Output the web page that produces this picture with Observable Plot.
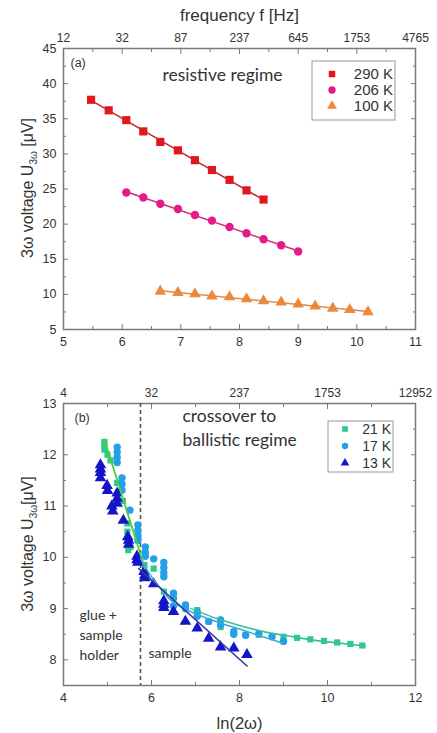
<!DOCTYPE html>
<html><head><meta charset="utf-8">
<script src="https://cdn.jsdelivr.net/npm/d3@7"></script>
<script src="https://cdn.jsdelivr.net/npm/@observablehq/plot@0.6"></script>
<style>
body{margin:0;background:#fff;}
#wrap{width:437px;}
#wrap svg{display:block;}
</style></head><body><div id="wrap"></div>
<script>
// ---------- Panel (a) data ----------
const x290 = [5.47,5.77,6.07,6.36,6.65,6.95,7.24,7.53,7.83,8.12,8.41];
const y290 = [37.7,36.2,34.8,33.2,31.7,30.5,29.1,27.7,26.3,24.8,23.5];
const x206 = [6.07,6.36,6.65,6.95,7.24,7.53,7.83,8.12,8.41,8.71,9.00];
const y206 = [24.5,23.8,22.9,22.15,21.3,20.5,19.6,18.7,17.85,17.0,16.1];
const x100 = [6.65,6.95,7.24,7.53,7.83,8.12,8.41,8.71,9.0,9.29,9.59,9.88,10.19];
const y100 = [10.44,10.25,10.06,9.73,9.63,9.35,9.06,8.88,8.59,8.31,8.02,7.82,7.5];
const seriesA = ["290 K","206 K","100 K"];
const xTicksA = [5,6,7,8,9,10,11];
const xMinorA = [5.5,6.5,7.5,8.5,9.5,10.5];
const yTicksA = [5,10,15,20,25,30,35,40,45];
const yMinorA = [7.5,12.5,17.5,22.5,27.5,32.5,37.5,42.5];
const freqA = ["12","32","87","237","645","1753","4765"];

// ---------- Panel (b) data ----------
const x21 = [4.93,4.93,4.93,5.0,5.07,5.22,5.35,5.45,5.45,5.47,5.52,5.67,5.84,6.05,6.28,6.5,6.77,7.04,7.3,7.57,7.87,8.14,8.44,8.74,9.0,9.31,9.61,9.92,10.22,10.52,10.79];
const y21 = [12.25,12.17,12.1,12.0,11.89,11.45,11.1,10.66,10.5,10.14,10.2,10.0,9.85,9.78,9.33,9.28,9.05,8.97,8.75,8.64,8.54,8.49,8.49,8.46,8.45,8.43,8.4,8.37,8.34,8.31,8.28];
const x17 = [5.22,5.22,5.22,5.22,5.33,5.33,5.33,5.51,5.69,5.69,5.69,5.69,5.86,5.86,5.86,6.05,6.28,6.28,6.28,6.28,6.5,6.5,6.5,6.77,6.77,7.04,7.04,7.3,7.57,7.57,7.87,7.87,8.14,8.44,8.74,9.0];
const y17 = [12.15,12.05,11.95,11.85,11.55,11.43,11.31,10.92,10.63,10.53,10.43,10.33,10.2,10.1,10.02,9.97,9.9,9.8,9.7,9.62,9.3,9.2,9.05,9.07,9.0,8.93,8.85,8.75,8.78,8.68,8.55,8.5,8.48,8.51,8.45,8.36];
const x13 = [4.84,4.84,4.84,4.84,4.99,5.0,5.1,5.12,5.22,5.22,5.22,5.36,5.46,5.48,5.48,5.67,5.67,5.69,5.83,5.85,5.85,6.05,6.28,6.28,6.28,6.5,6.77,7.04,7.3,7.57,7.87,8.17];
const y13 = [11.8,11.72,11.65,11.55,11.4,11.3,11.0,10.9,11.25,11.15,11.05,10.72,10.4,10.33,10.25,10.02,9.95,9.9,9.72,9.65,9.6,9.48,9.15,9.08,9.02,8.94,8.75,8.62,8.42,8.25,8.23,8.1];
// fitted curves
const fit21aX = [4.93,5.85], fit21aY = [12.3,9.78];
const fit21bX = [6.9,7.5,8.0,8.5,9.0,9.5,10.0,10.86], fit21bY = [9.0,8.8,8.67,8.56,8.48,8.41,8.35,8.27];
const fit17X = [5.75,6.0,6.25,6.5,7.0,7.5,8.0,8.5,9.0], fit17Y = [9.98,9.62,9.35,9.12,8.9,8.74,8.6,8.46,8.32];
const fit13X = [5.71,8.17], fit13Y = [9.78,7.88];
const boundary = [5.75];
const seriesB = ["21 K","17 K","13 K"];
const xTicksB = [4,6,8,10,12];
const xMinorB = [5,7,9,11];
const yTicksB = [8,9,10,11,12,13];
const yMinorB = [7.5,8.5,9.5,10.5,11.5,12.5];
const freqB = ["4","32","237","1753","12952"];

const zip = (xs, ys) => xs.map((x, i) => ({x, y: ys[i]}));
const FONT = "'Liberation Sans', Arial, sans-serif";
const ANN = "Lato, 'Open Sans', sans-serif";
const TXT = "#333";
const FRAME = "#7a7a7a";

function axes(xt, xm, yt, ym, topFmt) {
  const blank = () => "";
  const num = (d) => String(d);
  return [
    Plot.axisX({anchor:"bottom", ticks:xt, tickSize:0, tickPadding:8, tickFormat:num, label:null, fontSize:12.5, fill:TXT}),
    Plot.axisX({anchor:"bottom", ticks:xt, tickSize:-5, tickFormat:blank, label:null, stroke:FRAME}),
    Plot.axisX({anchor:"bottom", ticks:xm, tickSize:-3, tickFormat:blank, label:null, stroke:FRAME}),
    Plot.axisX({anchor:"top", ticks:xt, tickSize:0, tickPadding:7, tickFormat:topFmt, label:null, fontSize:12, fill:TXT}),
    Plot.axisX({anchor:"top", ticks:xt, tickSize:-5, tickFormat:blank, label:null, stroke:FRAME}),
    Plot.axisX({anchor:"top", ticks:xm, tickSize:-3, tickFormat:blank, label:null, stroke:FRAME}),
    Plot.axisY({anchor:"left", ticks:yt, tickSize:0, tickPadding:7, tickFormat:num, label:null, fontSize:12.5, fill:TXT}),
    Plot.axisY({anchor:"left", ticks:yt, tickSize:-5, tickFormat:blank, label:null, stroke:FRAME}),
    Plot.axisY({anchor:"left", ticks:ym, tickSize:-3, tickFormat:blank, label:null, stroke:FRAME}),
    Plot.axisY({anchor:"right", ticks:yt, tickSize:-5, tickFormat:blank, label:null, stroke:FRAME}),
    Plot.axisY({anchor:"right", ticks:ym, tickSize:-3, tickFormat:blank, label:null, stroke:FRAME}),
    Plot.frame({stroke:FRAME, strokeWidth:1.5})
  ];
}

// ---------- Panel (a) ----------
const cA = {"290 K":"#e8141c","206 K":"#e8178a","100 K":"#f0883a"};
const lA = {"290 K":"#c4262b","206 K":"#d42a82","100 K":"#e08a45"};
const d290 = zip(x290, y290), d206 = zip(x206, y206), d100 = zip(x100, y100);

const plotA = Plot.plot({
  width:437, height:360, marginTop:48, marginBottom:31, marginLeft:63, marginRight:22,
  style:{fontFamily:FONT, color:TXT, background:"#fff"},
  x:{domain:[5,11]}, y:{domain:[5,45]},
  marks:[
    ...axes(xTicksA, xMinorA, yTicksA, yMinorA, (d) => freqA[xTicksA.indexOf(d)]),
    Plot.dot(d290, {x:"x", y:"y", symbol:"square", fill:cA["290 K"], r:4.6}),
    Plot.dot(d206, {x:"x", y:"y", symbol:"circle", fill:cA["206 K"], r:4.2}),
    Plot.dot(d100, {x:"x", y:"y", symbol:"triangle", fill:cA["100 K"], r:4.3}),
    Plot.linearRegressionY(d290, {x:"x", y:"y", stroke:lA["290 K"], strokeWidth:1.5, ci:0}),
    Plot.linearRegressionY(d206, {x:"x", y:"y", stroke:lA["206 K"], strokeWidth:1.5, ci:0}),
    Plot.linearRegressionY(d100, {x:"x", y:"y", stroke:lA["100 K"], strokeWidth:1.5, ci:0}),
    Plot.text(["frequency f [Hz]"], {frameAnchor:"top", dy:-33, lineAnchor:"middle", fontSize:17, fill:TXT}),
    Plot.text(["(a)"], {frameAnchor:"top-left", dx:7, dy:14, lineAnchor:"middle", fontSize:12.5, fill:TXT}),
    Plot.text(["resistive regime"], {frameAnchor:"top-left", dx:99, dy:27, lineAnchor:"middle", fontSize:17.5, fontFamily:ANN, fill:TXT})
  ]
});

// ---------- Panel (b) ----------
const cB = {"21 K":"#2ec98c","17 K":"#22a0e8","13 K":"#1414c8"};
const d21 = zip(x21, y21), d17 = zip(x17, y17), d13 = zip(x13, y13);

const plotB = Plot.plot({
  width:437, height:373, marginTop:43, marginBottom:48, marginLeft:63, marginRight:22,
  style:{fontFamily:FONT, color:TXT, background:"#fff"},
  x:{domain:[4,12]}, y:{domain:[7.5,13]},
  marks:[
    ...axes(xTicksB, xMinorB, yTicksB, yMinorB, (d) => freqB[xTicksB.indexOf(d)]),
    Plot.ruleX(boundary, {stroke:"#555", strokeWidth:1.6, strokeDasharray:"4,3"}),
    Plot.dot(d21, {x:"x", y:"y", symbol:"square", fill:cB["21 K"], r:3.5}),
    Plot.dot(d17, {x:"x", y:"y", symbol:"circle", fill:cB["17 K"], r:3.7}),
    Plot.dot(d13, {x:"x", y:"y", symbol:"triangle", fill:cB["13 K"], r:4.3}),
    Plot.line(zip(fit21aX, fit21aY), {x:"x", y:"y", stroke:"#4ccf3c", strokeWidth:1.8}),
    Plot.line(zip(fit21bX, fit21bY), {x:"x", y:"y", stroke:"#35c29a", strokeWidth:1.6, curve:"natural"}),
    Plot.line(zip(fit17X, fit17Y), {x:"x", y:"y", stroke:"#3fa6e2", strokeWidth:1.6, curve:"natural"}),
    Plot.line(zip(fit13X, fit13Y), {x:"x", y:"y", stroke:"#3a3aa2", strokeWidth:1.6}),
    Plot.text(["(b)"], {frameAnchor:"top-left", dx:11, dy:14, lineAnchor:"middle", fontSize:12.5, fill:TXT}),
    Plot.text(["crossover to\nballistic regime"], {frameAnchor:"top-left", dx:119, dy:23, lineAnchor:"middle", lineHeight:1.35, fontSize:17.5, fontFamily:ANN, fill:TXT}),
    Plot.text(["glue +\nsample\nholder"], {frameAnchor:"top-left", dx:16, dy:230, lineAnchor:"middle", lineHeight:1.42, fontSize:14, fontFamily:ANN, fill:TXT}),
    Plot.text(["sample"], {frameAnchor:"top-left", dx:85, dy:250, lineAnchor:"middle", fontSize:14, fontFamily:ANN, fill:TXT}),
    Plot.text(["ln(2ω)"], {frameAnchor:"bottom", dy:38, lineAnchor:"middle", fontSize:16.5, fill:TXT})
  ]
});

document.getElementById("wrap").append(plotA, plotB);

// y-axis titles with subscripts
function yTitle(svg, cx, cy, gap) {
  const t = d3.select(svg).append("text")
    .attr("transform", `translate(${cx},${cy}) rotate(-90)`)
    .attr("text-anchor", "middle").attr("fill", TXT)
    .attr("font-family", FONT).attr("font-size", 16);
  t.append("tspan").text("3ω voltage U");
  t.append("tspan").attr("font-size", 10).attr("dy", 4).text("3ω");
  t.append("tspan").attr("dy", -4).text(gap + "[μV]");
}
yTitle(plotA, 33, 188, " ");
yTitle(plotB, 33, 184, "");

// legends inside the frames
function legend(svg, names, colors, symbols, box, symX, textX, rowY, fs, size) {
  const g = d3.select(svg).append("g");
  g.append("rect").attr("x", box[0]).attr("y", box[1]).attr("width", box[2]).attr("height", box[3])
    .attr("fill", "#fff").attr("stroke", "#999").attr("stroke-width", 1);
  names.forEach((n, i) => {
    g.append("path").attr("transform", `translate(${symX},${rowY[i]})`)
      .attr("d", d3.symbol().type(symbols[i]).size(size)()).attr("fill", colors[n]);
    g.append("text").attr("x", textX).attr("y", rowY[i]).attr("dy", "0.36em")
      .attr("text-anchor", "end").attr("font-family", FONT).attr("font-size", fs)
      .attr("fill", TXT).text(n);
  });
}
const syms = [d3.symbolSquare, d3.symbolCircle, d3.symbolTriangle];
legend(plotA, seriesA, cA, syms, [312, 61, 83, 59], 332, 393, [74, 90, 106], 15, 42);
legend(plotB, seriesB, cB, syms, [328, 61, 65, 51], 345, 391, [69, 86, 103], 14, 32);
</script>
</body></html>
